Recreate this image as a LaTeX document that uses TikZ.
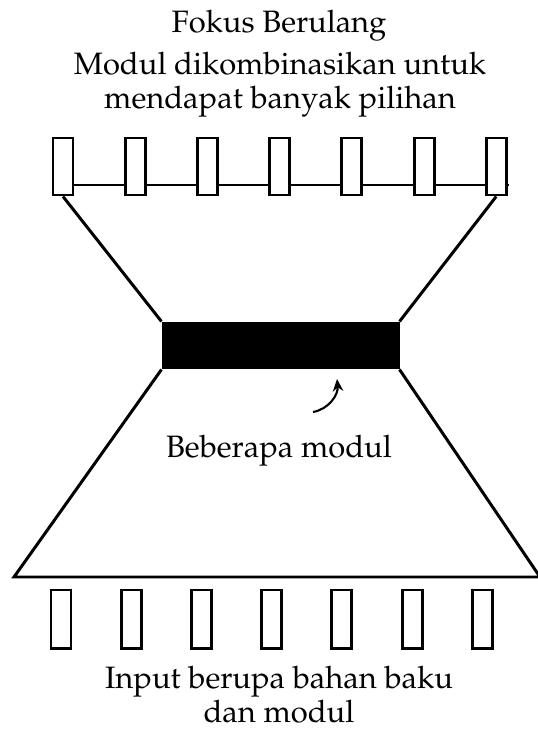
\documentclass[tikz,border=0pt]{standalone}
\usepackage[T1]{fontenc}
\usepackage{mathpazo}
\usetikzlibrary{arrows.meta}

\begin{document}
\begin{tikzpicture}[line width=1.7pt,>={Stealth[length=7pt,width=6pt]},
  modbox/.style={draw,fill=white,minimum width=0.4cm,minimum height=1.14cm,inner sep=0pt},
  caption/.style={align=center,inner sep=1pt,font=\fontsize{17.6}{19.5}\selectfont}]
\useasboundingbox (0,0) rectangle (10.74,-14.62);
\def\dtop{1.444}
\def\dbot{1.404}
% ================= titles =================
\node[caption,anchor=base] (title) at (5.58,-0.66) {Fokus Berulang};
\node[caption] (goal) at (5.6,-1.7) {Modul dikombinasikan untuk\\mendapat banyak pilihan};
% ================= upper row of modules =================
\foreach \n in {1,...,7}{
  \pgfmathsetmacro\x{1.26+(\n-1)*\dtop}
  \node[modbox] (top\n) at (\x,-3.33) {};
}
% thin rail joining the upper modules
\foreach \n [evaluate=\n as \m using int(\n+1)] in {1,...,6}{
  \draw[line width=1.2pt] ([yshift=-0.37cm]top\n.east) -- ([yshift=-0.37cm]top\m.west);
}
\draw[line width=1.2pt] ([yshift=-0.37cm]top7.east) -- ++(0.03,0);
% ================= narrow waist =================
\node[draw,fill=black,minimum width=4.7cm,minimum height=0.9cm,inner sep=0pt] (bar) at (5.61,-6.91) {};
\draw (top1.south) -- (bar.north west);
\draw (top7.south) -- (bar.north east);
% lower trapezoid
\coordinate (baseL) at (0.28,-11.54);
\coordinate (baseR) at (10.80,-11.54);
\draw (bar.south west) -- (baseL) -- (baseR) -- (bar.south east);
\node[caption,anchor=base] (many) at (5.58,-9.14) {Beberapa modul};
% small curved pointer to the waist
\coordinate (tail) at (6.26,-8.24);
\coordinate (tip) at (6.74,-7.58);
\draw[->,line width=1.2pt] (tail) to[out=10,in=-85] (tip);
% ================= lower row of inputs =================
\foreach \n in {1,...,7}{
  \pgfmathsetmacro\x{1.22+(\n-1)*\dbot}
  \node[modbox,minimum height=1.16cm] (bot\n) at (\x,-12.38) {};
}
\node[caption] (input) at (5.58,-13.9) {Input berupa bahan baku\\dan modul};
\end{tikzpicture}
\end{document}
